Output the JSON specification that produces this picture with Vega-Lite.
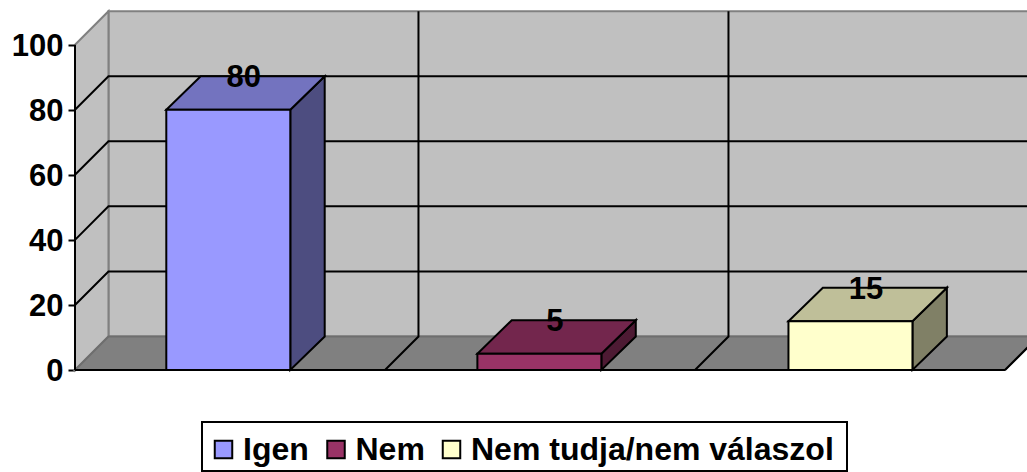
{
"$schema":"https://vega.github.io/schema/vega-lite/v6.json",
"autosize":"none","width":952,"height":472,
"padding":{"left":75,"top":0,"right":0,"bottom":0},
"background":"white",
"config":{"view":{"stroke":null},"legend":{"strokeWidth":2}},
"params":[{"name":"dx","value":0.108},{"name":"dy","value":10.3},{"name":"bx","value":0.111}],
"datasets":{
"answers":[{"answer":"Igen","value":80,"slot":0},{"answer":"Nem","value":5,"slot":1},{"answer":"Nem tudja/nem válaszol","value":15,"slot":2}],
"ticks":[{"tick":0},{"tick":20},{"tick":40},{"tick":60},{"tick":80},{"tick":100}],
"slots":[{"slot":0},{"slot":1},{"slot":2},{"slot":3}]
},
"resolve":{"scale":{"color":"independent"},"axis":{"y":"independent"}},
"layer":[
{"data":{"name":"slots"},"mark":{"type":"area","fill":"#C0C0C0","stroke":"#808080","strokeWidth":2},
"transform":[{"calculate":"datum.slot+dx","as":"px"},{"calculate":"100+dy","as":"top"},{"calculate":"dy","as":"bot"}],
"encoding":{"x":{"field":"px","type":"quantitative","scale":{"domain":[0,3.071],"nice":false,"zero":false},"axis":null},
"y":{"field":"top","type":"quantitative","scale":{"domain":[-31.36,113.74],"nice":false,"zero":false},"axis":null},"y2":{"field":"bot"}}},
{"data":{"name":"ticks"},"mark":{"type":"area","fill":"#C0C0C0","stroke":"#808080","strokeWidth":2},
"transform":[{"filter":"datum.tick===0"},{"calculate":"[0,1]","as":"t"},{"flatten":["t"]},{"calculate":"datum.t*dx","as":"px"},{"calculate":"100+datum.t*dy","as":"top"},{"calculate":"datum.t*dy","as":"bot"}],
"encoding":{"x":{"field":"px","type":"quantitative","scale":{"domain":[0,3.071],"nice":false,"zero":false},"axis":null},
"y":{"field":"top","type":"quantitative","scale":{"domain":[-31.36,113.74],"nice":false,"zero":false},"axis":null},"y2":{"field":"bot"}}},
{"data":{"name":"ticks"},"mark":{"type":"area","orient":"horizontal","fill":"#808080","stroke":"#6e6e6e","strokeWidth":2},
"transform":[{"filter":"datum.tick===0"},{"calculate":"[0,1]","as":"t"},{"flatten":["t"]},{"calculate":"datum.t*dx","as":"px"},{"calculate":"3+datum.t*dx","as":"px2"},{"calculate":"datum.t*dy","as":"py"}],
"encoding":{"x":{"field":"px","type":"quantitative","scale":{"domain":[0,3.071],"nice":false,"zero":false},"axis":null},"x2":{"field":"px2"},
"y":{"field":"py","type":"quantitative","scale":{"domain":[-31.36,113.74],"nice":false,"zero":false},"axis":null}}},
{"data":{"name":"ticks"},"mark":{"type":"line","color":"black","strokeWidth":2},
"transform":[{"filter":"datum.tick>0&&datum.tick<100"},{"calculate":"[0,1,2]","as":"k"},{"flatten":["k"]},{"calculate":"datum.k===0?0:(datum.k===1?dx:3+dx)","as":"px"},{"calculate":"datum.tick+(datum.k>0?dy:0)","as":"py"}],
"encoding":{"x":{"field":"px","type":"quantitative","scale":{"domain":[0,3.071],"nice":false,"zero":false},"axis":null},
"y":{"field":"py","type":"quantitative","scale":{"domain":[-31.36,113.74],"nice":false,"zero":false},"axis":null},"detail":{"field":"tick"},"order":{"field":"k"}}},
{"data":{"name":"slots"},"mark":{"type":"line","color":"black","strokeWidth":2},
"transform":[{"filter":"datum.slot>0"},{"calculate":"[0,1,2]","as":"k"},{"flatten":["k"]},{"calculate":"datum.slot+(datum.k>0?dx:0)","as":"px"},{"calculate":"datum.k===0?0:(datum.k===1?dy:100+dy)","as":"py"}],
"encoding":{"x":{"field":"px","type":"quantitative","scale":{"domain":[0,3.071],"nice":false,"zero":false},"axis":null},
"y":{"field":"py","type":"quantitative","scale":{"domain":[-31.36,113.74],"nice":false,"zero":false},"axis":null},"detail":{"field":"slot"},"order":{"field":"k"}}},
{"data":{"name":"slots"},"mark":{"type":"line","color":"black","strokeWidth":2},
"encoding":{"x":{"field":"slot","type":"quantitative","scale":{"domain":[0,3.071],"nice":false,"zero":false},"axis":null},
"y":{"datum":0,"type":"quantitative","scale":{"domain":[-31.36,113.74],"nice":false,"zero":false},"axis":null}}},
{"data":{"name":"ticks"},"mark":{"type":"line","color":"black","strokeWidth":2},
"encoding":{"x":{"datum":0,"type":"quantitative","scale":{"domain":[0,3.071],"nice":false,"zero":false},"axis":null},
"y":{"field":"tick","type":"quantitative","scale":{"domain":[-31.36,113.74],"nice":false,"zero":false},
"axis":{"title":null,"values":[0,20,40,60,80,100],"grid":false,"domain":false,"tickSize":7,"tickWidth":2,"tickColor":"black","labelPadding":5,"labelOffset":2,"labelFont":"Liberation Sans","labelFontSize":31,"labelFontWeight":"bold","labelColor":"black"}}}},
{"data":{"name":"answers"},"mark":{"type":"area","stroke":"black","strokeWidth":2},
"transform":[{"calculate":"[0,1]","as":"t"},{"flatten":["t"]},{"calculate":"0.2945+1.0035*datum.slot+0.4+datum.t*bx","as":"px"},{"calculate":"datum.value+datum.t*dy","as":"top"},{"calculate":"datum.t*dy","as":"bot"}],
"encoding":{"x":{"field":"px","type":"quantitative","scale":{"domain":[0,3.071],"nice":false,"zero":false},"axis":null},
"y":{"field":"top","type":"quantitative","scale":{"domain":[-31.36,113.74],"nice":false,"zero":false},"axis":null},"y2":{"field":"bot"},
"detail":{"field":"answer"},
"color":{"field":"answer","type":"nominal","legend":null,"scale":{"domain":["Igen","Nem","Nem tudja/nem válaszol"],"range":["#4D4D80","#4D1A33","#808066"]}}}},
{"data":{"name":"answers"},"mark":{"type":"area","orient":"horizontal","stroke":"black","strokeWidth":2},
"transform":[{"calculate":"[0,1]","as":"t"},{"flatten":["t"]},{"calculate":"0.2945+1.0035*datum.slot+datum.t*bx","as":"px"},{"calculate":"datum.px+0.4","as":"px2"},{"calculate":"datum.value+datum.t*dy","as":"py"}],
"encoding":{"x":{"field":"px","type":"quantitative","scale":{"domain":[0,3.071],"nice":false,"zero":false},"axis":null},"x2":{"field":"px2"},
"y":{"field":"py","type":"quantitative","scale":{"domain":[-31.36,113.74],"nice":false,"zero":false},"axis":null},
"detail":{"field":"answer"},
"color":{"field":"answer","type":"nominal","legend":null,"scale":{"domain":["Igen","Nem","Nem tudja/nem válaszol"],"range":["#7373BF","#73264D","#BFBF99"]}}}},
{"data":{"name":"answers"},"mark":{"type":"bar","stroke":"black","strokeWidth":2},
"transform":[{"calculate":"0.2945+1.0035*datum.slot","as":"px"},{"calculate":"datum.px+0.4","as":"px2"},{"calculate":"0","as":"base"}],
"encoding":{"x":{"field":"px","type":"quantitative","scale":{"domain":[0,3.071],"nice":false,"zero":false},"axis":null},"x2":{"field":"px2"},
"y":{"field":"value","type":"quantitative","scale":{"domain":[-31.36,113.74],"nice":false,"zero":false},"axis":null},"y2":{"field":"base"},
"color":{"field":"answer","type":"nominal","scale":{"domain":["Igen","Nem","Nem tudja/nem válaszol"],"range":["#9999FF","#993366","#FFFFCC"]},
"legend":{"title":" ","titleFontSize":4,"titlePadding":2,"orient":"none","legendX":127,"legendY":422,"direction":"horizontal","columns":3,"padding":5.5,"strokeColor":"black","symbolType":"square","symbolSize":306,"symbolStrokeColor":"black","symbolStrokeWidth":2,"labelFont":"Liberation Sans","labelFontSize":32,"labelFontWeight":"bold","labelColor":"black","labelLimit":600,"columnPadding":10.5,"labelOffset":3.5,"encode":{"title":{"update":{"dx":{"value":634}}}}}}}},
{"data":{"name":"answers"},"mark":{"type":"text","font":"Liberation Sans","fontSize":31,"fontWeight":"bold","color":"black","baseline":"middle","align":"center","dy":2},
"transform":[{"calculate":"0.2945+1.0035*datum.slot+0.2+0.05","as":"px"},{"calculate":"datum.value+dy","as":"py"}],
"encoding":{"x":{"field":"px","type":"quantitative","scale":{"domain":[0,3.071],"nice":false,"zero":false},"axis":null},
"y":{"field":"py","type":"quantitative","scale":{"domain":[-31.36,113.74],"nice":false,"zero":false},"axis":null},
"text":{"field":"value","type":"quantitative"}}}
]
}
